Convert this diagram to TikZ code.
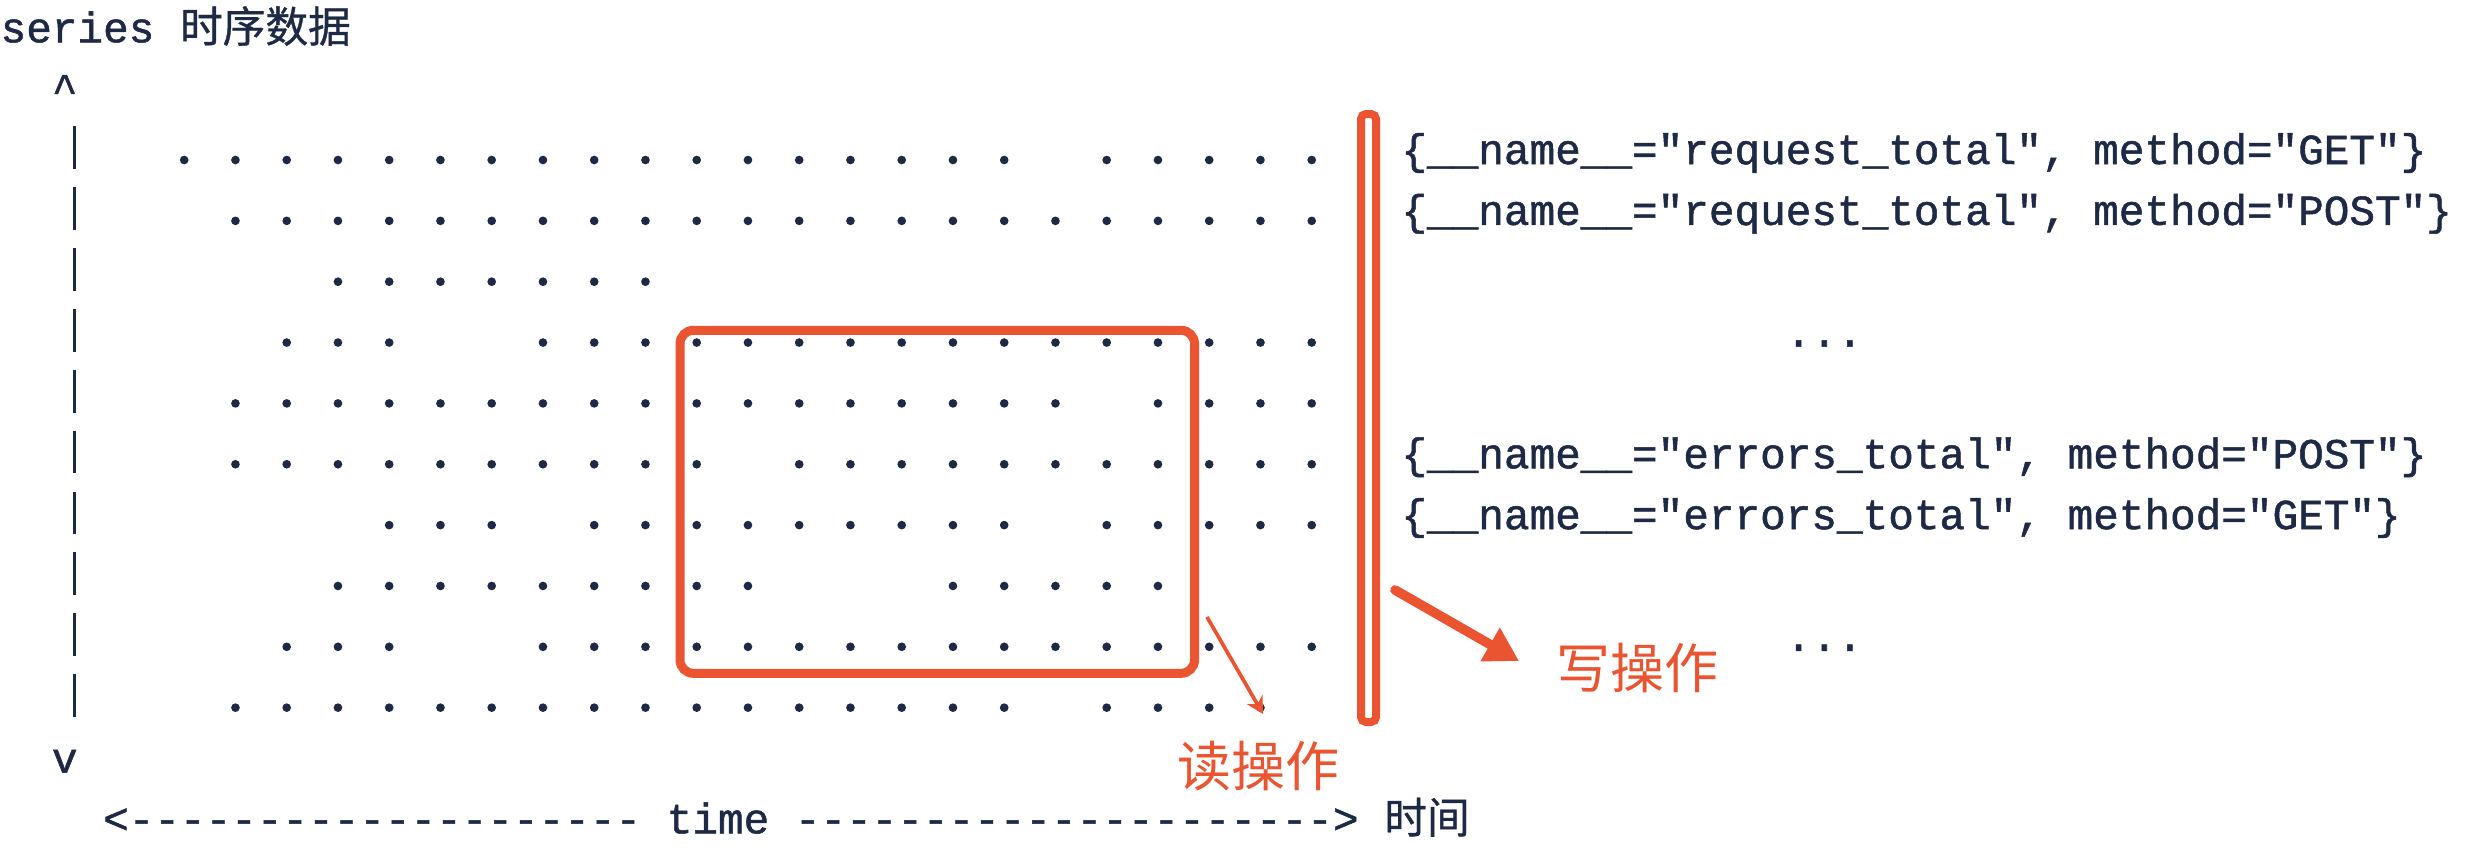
\documentclass[tikz,border=0pt]{standalone}
\usepackage{fontspec}
\setmonofont[FakeBold=1.2]{Liberation Mono}
\newfontfamily\cjk{Noto Sans CJK SC}
\newfontfamily\cjkdark[FakeBold=0.8]{Noto Sans CJK SC}
\usetikzlibrary{arrows.meta}
\definecolor{ink}{HTML}{1E2A45}
\definecolor{hot}{HTML}{EA5430}
\newcommand\monotext{\ttfamily\fontsize{12.81}{15}\selectfont}
\frenchspacing

\begin{document}
\begin{tikzpicture}[x=0.3pt,y=-0.3pt,
                mono/.style={font=\monotext,text=ink,inner sep=0pt,anchor=base west},
                hand/.style={font={\cjk\fontsize{16.2}{18}\selectfont},text=hot,inner sep=0pt},
                pt/.style={fill=ink},
                frame/.style={draw=hot,line width=2.7pt,rounded corners=4pt}]
                \useasboundingbox (0,0) rectangle (2488,852);
                \fill[white] (0,0) rectangle (2488,852);

                \coordinate (readfrom) at (1207,617);
                \coordinate (readto) at (1263,714);
                \coordinate (writefrom) at (1395,590);
                \coordinate (writeto) at (1519,661);

                \node[mono] (title) at (0,42.3) {series {\cjkdark 时序数据}};
                \node[mono] (up) at (51.25,103.15) {\textasciicircum};
                \node[mono] (down) at (51.25,772.5) {v};
                \node[mono] (time) at (102.5,833.35) {<-------------------- time ---------------------> {\cjkdark 时间}};

                \node[mono] (getreq) at (1400.8,164) {\{\_\_name\_\_="request\_total", method="GET"\}};
                \node[mono] (postreq) at (1400.8,224.85) {\{\_\_name\_\_="request\_total", method="POST"\}};
                \node[mono] (more) at (1785.2,346.55) {...};
                \node[mono] (posterr) at (1400.8,468.25) {\{\_\_name\_\_="errors\_total", method="POST"\}};
                \node[mono] (geterr) at (1400.8,529.1) {\{\_\_name\_\_="errors\_total", method="GET"\}};
                \node[mono] (moreerr) at (1785.2,650.8) {...};

                \node[hand] (read) at (1258.7,766) {读操作};
                \node[hand] (write) at (1637,667.5) {写操作};

                \foreach \r in {1,...,10}
                    \draw[ink,line width=0.9pt] (74,65.55+60.85*\r) -- (74,108.25+60.85*\r);
                \foreach \r/\a/\b in {1/0/16,1/18/22,2/1/22,3/3/9,4/2/4,4/7/22,5/1/17,5/19/22,
                        6/1/10,6/12/22,7/4/6,7/8/16,7/18/22,8/3/11,8/15/19,9/2/4,9/7/22,10/1/16,10/18/21}
                    \foreach \k in {\a,...,\b}
                        \fill[pt] (184.2+51.25*\k,99.15+60.85*\r) circle[radius=1.3pt];

                \draw[frame] (680,330.3) rectangle (1194.5,673.3);
                \draw[frame,line width=2.4pt,rounded corners=1.5pt] (1361,114) rectangle (1376,722);
                \draw[hot,line width=1.1pt,-{Stealth[length=5pt,width=5.4pt]}] (readfrom) -- (readto);
                \draw[hot,line width=2.9pt,line cap=round,-{Triangle[length=10pt,width=11pt]}] (writefrom) -- (writeto);
            \end{tikzpicture}
\end{document}
